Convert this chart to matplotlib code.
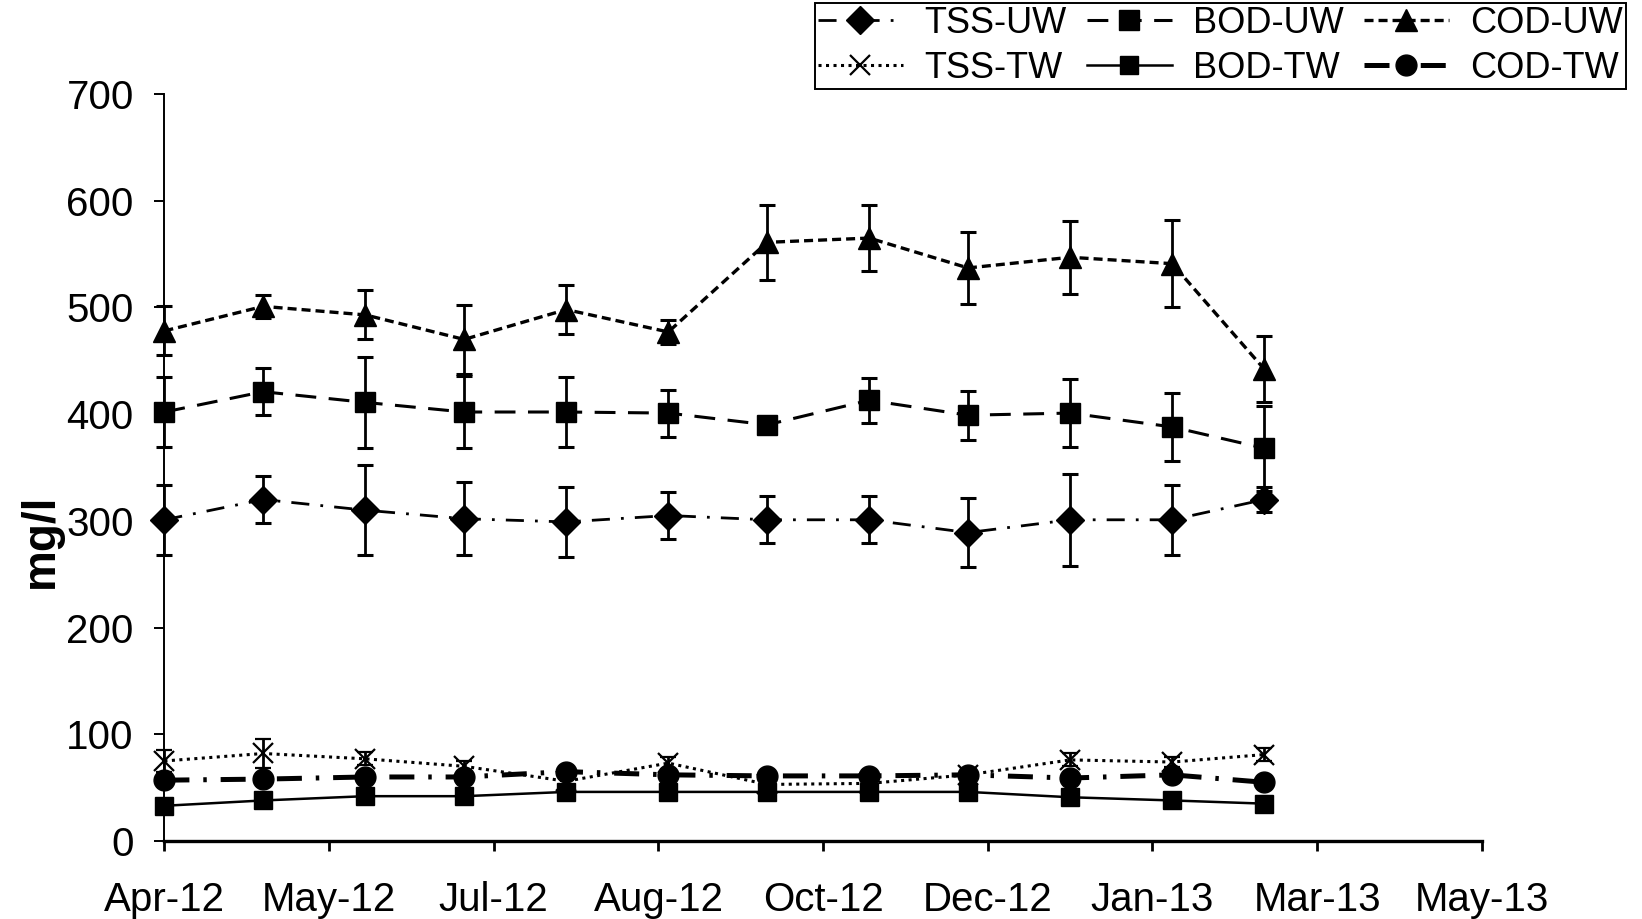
import matplotlib
matplotlib.use('Agg')
import matplotlib.pyplot as plt
from datetime import date, timedelta

# ---------------- data ----------------
months = [date(2012, 4, 1), date(2012, 5, 1), date(2012, 6, 1), date(2012, 7, 1),
          date(2012, 8, 1), date(2012, 9, 1), date(2012, 10, 1), date(2012, 11, 1),
          date(2012, 12, 1), date(2013, 1, 1), date(2013, 2, 1), date(2013, 3, 1)]

tss_uw = [301, 320, 310, 302, 299, 305, 301, 301, 289, 301, 301, 320]
tss_uw_err = [33, 22, 42, 34, 33, 22, 22, 22, 32, 43, 33, 12]
bod_uw = [402, 421, 411, 402, 402, 401, 390, 413, 399, 401, 388, 368]
bod_uw_err = [33, 22, 43, 34, 33, 22, 5, 21, 23, 32, 32, 40]
cod_uw = [478, 501, 493, 470, 498, 477, 561, 565, 537, 547, 541, 442]
cod_uw_err = [23, 11, 23, 32, 23, 11, 35, 31, 34, 34, 41, 31]

tss_tw = [75, 82, 77, 70, 56, 73, 53, 54, 62, 76, 74, 81]
tss_tw_err = [10, 14, 6, 5, 4, 6, 4, 4, 4, 6, 5, 6]
bod_tw = [33, 38, 42, 42, 46, 46, 46, 46, 46, 41, 38, 35]
bod_tw_err = [5, 6, 6, 6, 6, 6, 6, 6, 6, 6, 6, 7]
cod_tw = [57, 58, 60, 60, 65, 62, 61, 61, 62, 59, 62, 55]
cod_tw_err = [4, 4, 4, 4, 4, 4, 4, 4, 4, 4, 4, 4]

axis_start = date(2012, 4, 1)
tick_step_days = 50
tick_labels = ['Apr-12', 'May-12', 'Jul-12', 'Aug-12', 'Oct-12',
               'Dec-12', 'Jan-13', 'Mar-13', 'May-13']
y_ticks = [0, 100, 200, 300, 400, 500, 600, 700]

# ---------------- style ----------------
plt.rcParams['font.family'] = ['Liberation Sans', 'DejaVu Sans']
plt.rcParams['lines.scale_dashes'] = False

fig = plt.figure(figsize=(16.42, 9.19), dpi=100)
ax = fig.add_axes([164.4 / 1642, (919 - 841) / 919, (1481.8 - 164.4) / 1642, (841 - 94) / 919])

eb_kw = dict(color='black', ecolor='black', elinewidth=2.0, capsize=6, capthick=2.2, clip_on=False)

series = [
    ('TSS-UW', tss_uw, tss_uw_err, dict(marker='D', ms=14, lw=2.0, dashes=(13, 8, 2, 8))),
    ('TSS-TW', tss_tw, tss_tw_err, dict(marker='x', ms=14, mew=1.6, lw=2.2, dashes=(2.2, 3.2))),
    ('BOD-UW', bod_uw, bod_uw_err, dict(marker='s', ms=15, lw=2.2, dashes=(15, 9))),
    ('BOD-TW', bod_tw, bod_tw_err, dict(marker='s', ms=13, lw=1.8, ls='-')),
    ('COD-UW', cod_uw, cod_uw_err, dict(marker='^', ms=16, lw=2.4, dashes=(6.5, 3.6))),
    ('COD-TW', cod_tw, cod_tw_err, dict(marker='o', ms=15, lw=3.6, dashes=(18, 10, 2.5, 10))),
]

handles = []
for name, vals, errs, kw in series:
    c = ax.errorbar(months, vals, yerr=errs, label=name, mfc='black', mec='black', **eb_kw, **kw)
    handles.append(c.lines[0])

tick_dates = [axis_start + timedelta(days=tick_step_days * k) for k in range(len(tick_labels))]
ax.set_xlim(tick_dates[0], tick_dates[-1])
ax.set_xticks(tick_dates)
ax.set_xticklabels(tick_labels)
ax.set_ylim(0, 700)
ax.set_yticks(y_ticks)

for s in ['top', 'right']:
    ax.spines[s].set_visible(False)
ax.spines['left'].set_linewidth(1.4)
ax.spines['bottom'].set_linewidth(2.4)
ax.tick_params(axis='y', direction='out', length=7, width=1.4, labelsize=29, pad=15)
ax.tick_params(axis='x', direction='out', length=7, width=2.0, labelsize=29, pad=22)

fig.text(41 / 1642, 1 - 541 / 919, 'mg/l', rotation=90, ha='center', va='center',
         fontsize=33, fontweight='bold')

leg = fig.legend(handles, [s[0] for s in series], ncol=3, loc='lower right',
                 bbox_to_anchor=(1626 / 1642, 1 - 89 / 919), bbox_transform=fig.transFigure,
                 fontsize=26, handlelength=2.35, handletextpad=0.6, columnspacing=0.55,
                 labelspacing=0.28, borderpad=0.08, borderaxespad=0, numpoints=1,
                 frameon=True, fancybox=False, edgecolor='black', framealpha=1)
leg.get_frame().set_linewidth(1.4)

fig.savefig('out.png', dpi=100)
